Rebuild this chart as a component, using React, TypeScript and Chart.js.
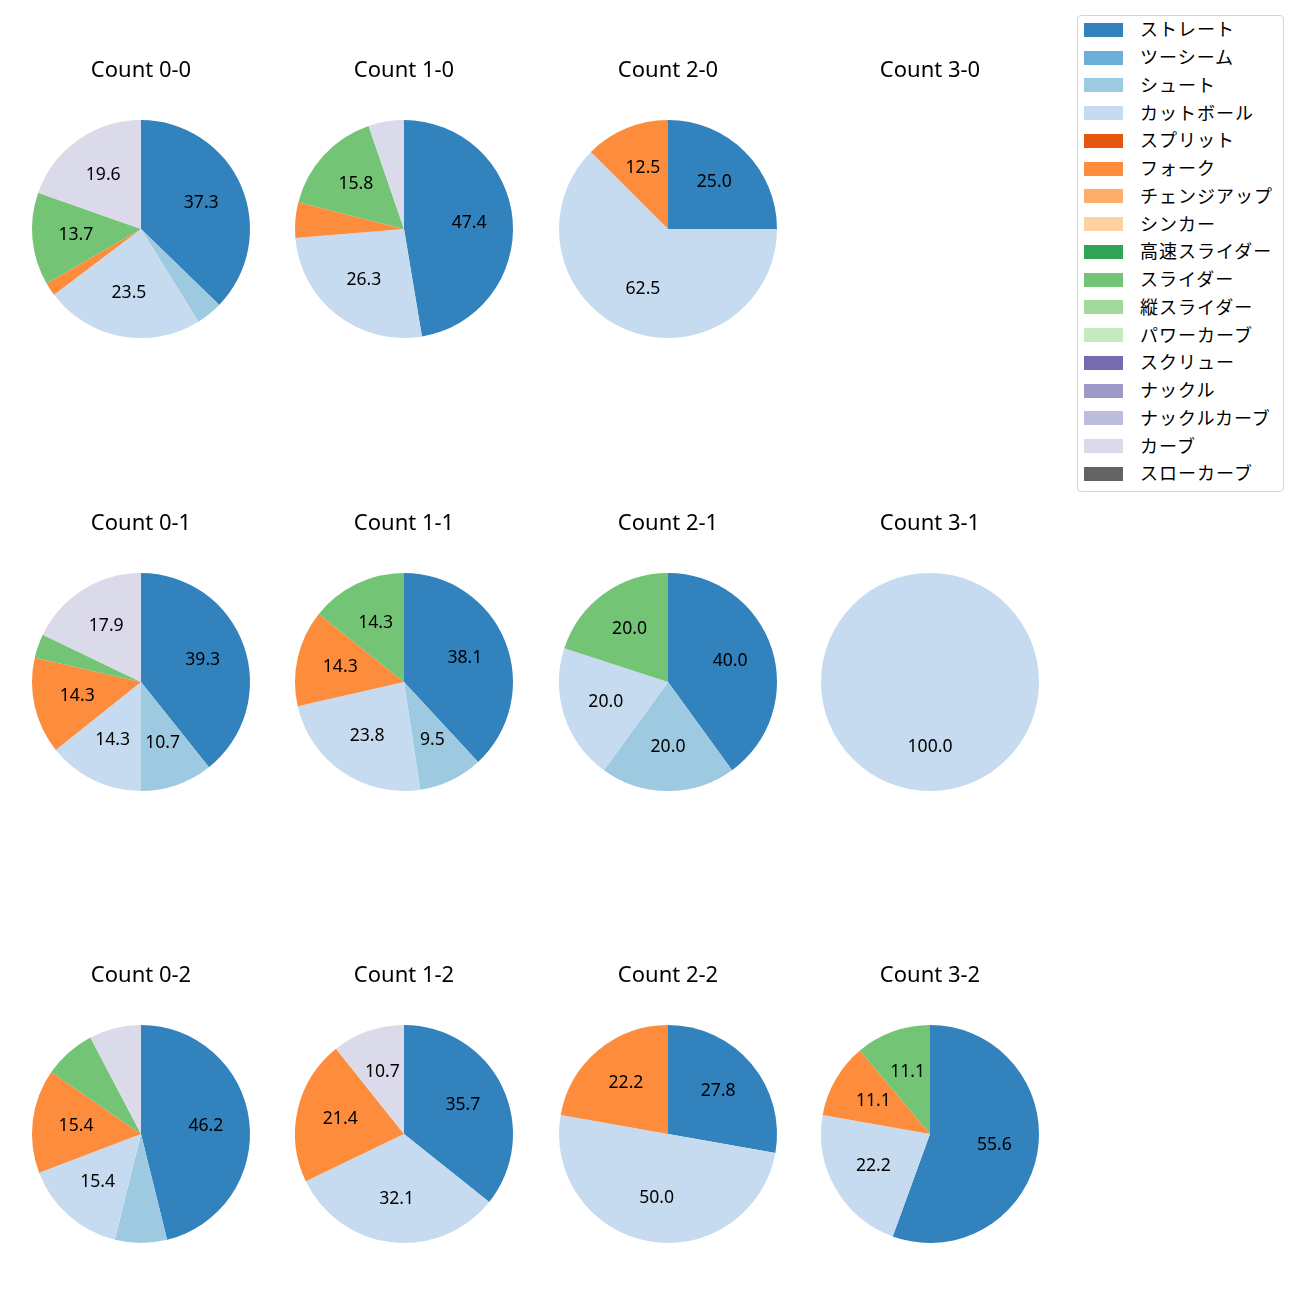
import React, { useEffect, useRef } from "react";
import { Chart, registerables } from "chart.js";

Chart.register(...registerables);

const pitchTypes = [
  "ストレート", "ツーシーム", "シュート", "カットボール", "スプリット", "フォーク",
  "チェンジアップ", "シンカー", "高速スライダー", "スライダー", "縦スライダー",
  "パワーカーブ", "スクリュー", "ナックル", "ナックルカーブ", "カーブ", "スローカーブ",
];

const pitchColors = [
  "#3182bd", "#6baed6", "#9ecae1", "#c6dbef", "#e6550d", "#fd8d3c",
  "#fdae6b", "#fdd0a2", "#31a354", "#74c476", "#a1d99b", "#c7e9c0",
  "#756bb1", "#9e9ac8", "#bcbddc", "#dadaeb", "#636363",
];

const countLabels = [
  "Count 0-0", "Count 1-0", "Count 2-0", "Count 3-0",
  "Count 0-1", "Count 1-1", "Count 2-1", "Count 3-1",
  "Count 0-2", "Count 1-2", "Count 2-2", "Count 3-2",
];

// pitch counts per ball-strike count, in the order of pitchTypes
const count00 = [19, 0, 2, 12, 0, 1, 0, 0, 0, 7, 0, 0, 0, 0, 0, 10, 0];
const count10 = [9, 0, 0, 5, 0, 1, 0, 0, 0, 3, 0, 0, 0, 0, 0, 1, 0];
const count20 = [2, 0, 0, 5, 0, 1, 0, 0, 0, 0, 0, 0, 0, 0, 0, 0, 0];
const count30 = [0, 0, 0, 0, 0, 0, 0, 0, 0, 0, 0, 0, 0, 0, 0, 0, 0];
const count01 = [11, 0, 3, 4, 0, 4, 0, 0, 0, 1, 0, 0, 0, 0, 0, 5, 0];
const count11 = [8, 0, 2, 5, 0, 3, 0, 0, 0, 3, 0, 0, 0, 0, 0, 0, 0];
const count21 = [2, 0, 1, 1, 0, 0, 0, 0, 0, 1, 0, 0, 0, 0, 0, 0, 0];
const count31 = [0, 0, 0, 1, 0, 0, 0, 0, 0, 0, 0, 0, 0, 0, 0, 0, 0];
const count02 = [6, 0, 1, 2, 0, 2, 0, 0, 0, 1, 0, 0, 0, 0, 0, 1, 0];
const count12 = [10, 0, 0, 9, 0, 6, 0, 0, 0, 0, 0, 0, 0, 0, 0, 3, 0];
const count22 = [5, 0, 0, 9, 0, 4, 0, 0, 0, 0, 0, 0, 0, 0, 0, 0, 0];
const count32 = [5, 0, 0, 2, 0, 1, 0, 0, 0, 1, 0, 0, 0, 0, 0, 0, 0];

const allCounts = [
  count00, count10, count20, count30,
  count01, count11, count21, count31,
  count02, count12, count22, count32,
];

const FONT = '"Noto Sans", "Noto Sans CJK JP", sans-serif';
const colX = [141, 404, 668, 930];
const rowY = [229, 682, 1134];
const CW = 262;
const CH = 300;
const R = 109;

const pieLabelPlugin = {
  id: "pieLabels",
  afterDatasetsDraw(chart: any) {
    const ctx = chart.ctx;
    const ds = chart.data.datasets[0];
    const total = ds.data.reduce((a: number, b: number) => a + b, 0);
    const meta = chart.getDatasetMeta(0);
    ctx.save();
    ctx.fillStyle = "#000";
    ctx.font = `17.6px ${FONT}`;
    ctx.textAlign = "center";
    ctx.textBaseline = "middle";
    if (total > 0) {
      meta.data.forEach((arc: any, i: number) => {
        const v = ds.data[i];
        const pct = (v / total) * 100;
        if (pct < 9) return;
        const p = arc.getProps(["x", "y", "startAngle", "endAngle", "outerRadius"], true);
        const mid = (p.startAngle + p.endAngle) / 2;
        const r = p.outerRadius * 0.6;
        ctx.fillText(pct.toFixed(1), p.x + Math.cos(mid) * r, p.y + Math.sin(mid) * r - 0.5);
      });
    }
    // title
    ctx.font = `22px ${FONT}`;
    ctx.fillText(chart.options.plugins.pieTitle.text, chart.width / 2, 12);
    ctx.restore();
  },
};

function PieCell({ idx }: { idx: number }) {
  const ref = useRef<HTMLCanvasElement>(null);
  useEffect(() => {
    const data = allCounts[idx];
    const chart = new Chart(ref.current as HTMLCanvasElement, {
      type: "pie",
      data: {
        labels: pitchTypes,
        datasets: [
          {
            data: data,
            backgroundColor: pitchColors,
            borderWidth: 0,
          },
        ],
      },
      options: {
        responsive: false,
        animation: false,
        events: [],
        layout: { padding: { left: (CW - 2 * R) / 2, right: (CW - 2 * R) / 2, top: 61, bottom: CH - 61 - 2 * R } },
        plugins: {
          legend: { display: false },
          tooltip: { enabled: false },
          title: { display: false },
          pieTitle: { text: countLabels[idx] },
        } as any,
      },
      plugins: [pieLabelPlugin],
    });
    return () => chart.destroy();
  }, [idx]);
  const col = idx % 4;
  const row = Math.floor(idx / 4);
  return (
    <canvas
      ref={ref}
      width={CW}
      height={CH}
      style={{
        position: "absolute",
        left: colX[col] - CW / 2,
        top: rowY[row] - 170,
        width: CW,
        height: CH,
      }}
    />
  );
}

function Legend() {
  return (
    <div
      style={{
        position: "absolute",
        left: 1077,
        top: 15,
        width: 207,
        height: 477,
        border: "1px solid #d4d4d4",
        borderRadius: 4,
        background: "#fff",
        boxSizing: "border-box",
      }}
    >
      {pitchTypes.map((name, i) => (
        <div key={name}>
          <div
            style={{
              position: "absolute",
              left: 6,
              top: 13.8 + i * 27.75 - 7,
              width: 39,
              height: 14,
              background: pitchColors[i],
            }}
          />
          <div
            style={{
              position: "absolute",
              left: 62,
              top: 13.3 + i * 27.75 - 13,
              height: 26,
              lineHeight: "26px",
              fontFamily: FONT,
              fontSize: 18,
              letterSpacing: 1,
              color: "#000",
              whiteSpace: "nowrap",
            }}
          >
            {name}
          </div>
        </div>
      ))}
    </div>
  );
}

export default function App() {
  return (
    <div style={{ position: "absolute", left: 0, top: 0, width: 1300, height: 1300, background: "#fff" }}>
      {countLabels.map((_, i) => (
        <PieCell key={i} idx={i} />
      ))}
      <Legend />
    </div>
  );
}
